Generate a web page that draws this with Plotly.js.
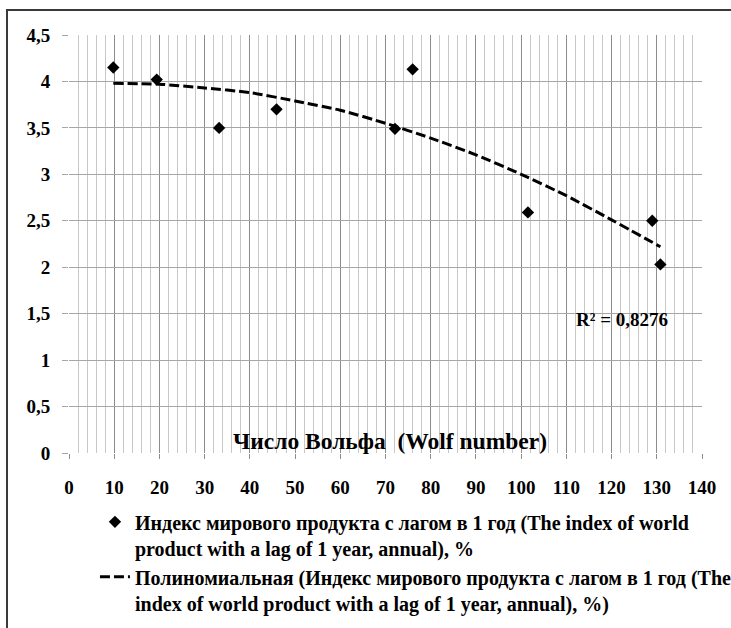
<!DOCTYPE html>
<html>
<head>
<meta charset="utf-8">
<script src="https://cdn.plot.ly/plotly-3.0.1.min.js"></script>
<style>
html,body{margin:0;padding:0;background:#fff;}
#frame{position:absolute;left:6px;top:9px;width:900px;height:700px;border:2px solid #3a3a3a;box-sizing:border-box;}
#chart{position:absolute;left:0;top:0;width:731px;height:628px;overflow:hidden;}
</style>
</head>
<body>
<div id="frame"></div>
<div id="chart"></div>
<script>
// Wolf number (x) and world product index with 1-year lag (y)
const wolfNumber = [9.8, 19.4, 33.2, 45.9, 72.1, 76.0, 101.5, 129.0, 130.8];
const indexValues = [4.15, 4.02, 3.50, 3.70, 3.49, 4.13, 2.59, 2.50, 2.03];
// Polynomial trendline
const trendX = [9.8, 20, 30, 40, 50, 60, 70, 80, 90, 100, 110, 120, 130.8];
const trendY = [3.98, 3.97, 3.93, 3.88, 3.79, 3.69, 3.55, 3.39, 3.21, 3.00, 2.77, 2.51, 2.22];
const seriesName = "Индекс мирового продукта с лагом в 1 год (The index of world<br>product with a lag of 1 year, annual), %";
const trendName = "Полиномиальная (Индекс мирового продукта с лагом в 1 год (The<br>index of world product with a lag of 1 year, annual), %)";
const axisTitle = "Число Вольфа  (Wolf number)";
const r2Text = "R² = 0,8276";

const serif = "Liberation Serif";

const traces = [
  {
    x: wolfNumber, y: indexValues, type: 'scatter', mode: 'markers',
    name: seriesName, legendgroup: 'a',
    marker: {symbol: 'diamond', size: 9.5, color: '#000'},
    cliponaxis: false
  },
  {
    x: trendX, y: trendY, type: 'scatter', mode: 'lines',
    name: trendName, legendgroup: 'b',
    line: {color: '#000', width: 3, dash: '10px,4px', shape: 'spline', smoothing: 0.6}
  }
];

const layout = {
  width: 731, height: 628,
  margin: {l: 69, r: 29, t: 35, b: 175, autoexpand: false},
  paper_bgcolor: 'rgba(0,0,0,0)',
  plot_bgcolor: '#fff',
  separators: ', ',
  showlegend: true,
  font: {family: serif, color: '#000', weight: 'bold'},
  xaxis: {
    range: [0, 140], dtick: 10, tick0: 0,
    showgrid: true, gridcolor: '#8c8c8c', gridwidth: 1,
    minor: {dtick: 2, showgrid: true, gridcolor: '#c8c8c8', gridwidth: 1, ticks: ''},
    ticks: 'outside', ticklen: 5, tickcolor: '#8c8c8c',
    tickfont: {family: serif, size: 19, weight: 'bold', color: '#000'},
    ticklabelstandoff: 12, tickangle: 0, automargin: false,
    zeroline: false, showline: false, fixedrange: true
  },
  yaxis: {
    range: [0, 4.5], dtick: 0.5, tick0: 0,
    showgrid: true, gridcolor: '#a6a6a6', gridwidth: 1,
    ticks: 'outside', ticklen: 6, tickcolor: '#a6a6a6',
    tickfont: {family: serif, size: 19, weight: 'bold', color: '#000'},
    ticklabelstandoff: 8, automargin: false,
    zeroline: false, showline: false, fixedrange: true
  },
  legend: {
    x: 0.041, xanchor: 'left', y: -0.118, yanchor: 'top',
    valign: 'top',
    font: {family: serif, size: 20, weight: 'bold', color: '#000'},
    bgcolor: 'rgba(0,0,0,0)', tracegroupgap: 0, traceorder: 'grouped'
  },
  annotations: [
    {
      text: axisTitle, xref: 'paper', yref: 'y', x: 0.507, y: 0.125,
      showarrow: false, font: {family: serif, size: 23.5, weight: 'bold', color: '#000'}
    },
    {
      text: r2Text, xref: 'x', yref: 'y', x: 122.3, y: 1.435,
      showarrow: false, font: {family: serif, size: 19, weight: 'bold', color: '#000'}
    }
  ]
};

Plotly.newPlot('chart', traces, layout, {displayModeBar: false, staticPlot: true});
</script>
</body>
</html>
